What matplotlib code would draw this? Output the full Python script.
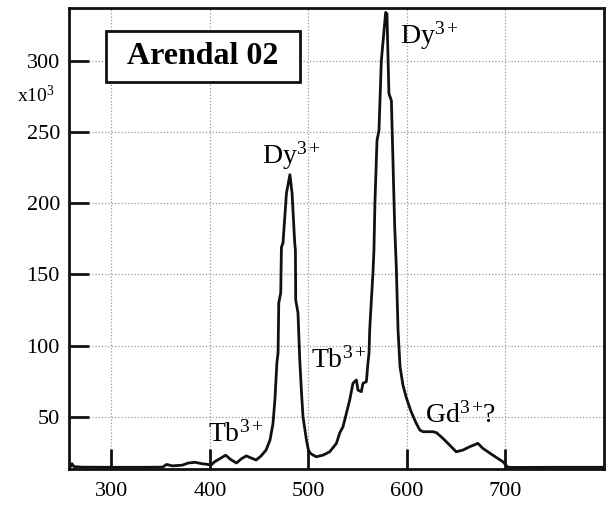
import matplotlib
matplotlib.use("Agg")
import matplotlib.pyplot as plt
from matplotlib.patches import Rectangle

plt.rcParams['font.family'] = ['Liberation Serif', 'DejaVu Serif']
plt.rcParams['mathtext.fontset'] = 'custom'
plt.rcParams['mathtext.rm'] = 'Liberation Serif'
plt.rcParams['mathtext.it'] = 'Liberation Serif:italic'

# Spectrum (wavelength nm, intensity x10^3)
wavelength = [258, 260, 262, 270, 300, 330, 352, 356, 362, 372, 378, 385, 392, 398,
              401, 405, 410, 416, 421, 427, 432, 437, 442, 447, 452, 457, 461, 464,
              466, 467, 468, 469.2, 469.9, 471.9, 472.6, 474.2, 477.7, 481.2,
              483.4, 486.1, 486.8, 487.1, 489.4, 491.2, 493, 494.5, 498, 500, 502,
              505, 508, 515, 521.6,
              528.4, 531.8, 535.1, 538.6, 541.9, 545.2, 548.7, 550.3, 553.7, 555.4,
              558.8, 560.4, 561.5, 562.2, 563.9, 565.5, 566.5, 567.5, 569.6, 571.6,
              574, 578.4, 579.7, 581.7, 584.2, 585.8, 587.5, 589.2, 591, 593, 596,
              599.5, 604, 609, 613, 616.3, 626.4, 630, 636.5, 643.3, 650, 656.8,
              663.6, 672, 677, 687, 697.4, 702.5, 710, 750, 800]
intensity = [14.5, 17, 15, 14.6, 14.5, 14.5, 14.6, 16.5, 15.5, 16, 17.5, 18, 17, 16.5,
             16, 18.5, 20.5, 23, 20, 17.5, 20.5, 22.5, 21, 19.6, 22.5, 26.6, 33.6, 45,
             62, 75, 88, 95, 130, 137, 169, 172, 207, 220,
             207, 172, 167, 132, 123, 90, 66.6, 50, 33.6, 26.6, 24.3,
             23, 21.9, 23.1, 25.4,
             31.3, 38.6, 43, 52.6, 61.7, 73.5, 75.8, 68.7, 67.6, 73.5,
             74.6, 87.5, 94.7, 111, 132, 151, 167, 200, 244, 251,
             300, 334, 333, 277, 272, 230, 185, 155, 110, 85, 72,
             63, 54, 46, 40.7, 39.5, 39.5, 38.8, 34.8, 30.1, 25.4, 26.6,
             28.9, 31.3, 27.8, 23.1, 18.4, 14.5, 14.4, 14.5, 14.5]

x_ticks = [300, 400, 500, 600, 700]
y_ticks = [50, 100, 150, 200, 250, 300]

labels = [(r'Dy$^{3\,{+}}$', 452.8, 228),
          (r'Dy$^{3\,{+}}$', 592.6, 312),
          (r'Tb$^{3\,{+}}$', 397.9, 32.2),
          (r'Tb$^{3\,{+}}$', 503.0, 84.2),
          (r'Gd$^{3\,{+}}$?', 618.0, 45.6)]

fig = plt.figure(figsize=(6.12, 5.05), dpi=100)
ax = fig.add_axes([69/612, 1-469/505, (604-69)/612, (469-7.5)/505])

ax.plot(wavelength, intensity, color='#111111', lw=2.0, zorder=3)
ax.set_xlim(257, 800)
ax.set_ylim(13.3, 337.4)
ax.set_xticks(x_ticks)
ax.set_yticks(y_ticks)
ax.tick_params(direction='in', length=14.5, width=2.0, labelsize=16, color='#111111')
ax.tick_params(axis='y', pad=6.5)
ax.tick_params(axis='x', pad=9)
for s in ax.spines.values():
    s.set_linewidth(2)
    s.set_color('#111111')
ax.grid(True, color='#999999', linestyle=(0, (1, 1.6)), lw=0.9)
ax.set_axisbelow(True)

for txt, x, y in labels:
    ax.text(x, y, txt, fontsize=20, ha='left', va='baseline', zorder=4)

# Title box
box = Rectangle((106/612, 1-82/505), (300-106)/612, (82-31)/505, transform=fig.transFigure,
                facecolor='white', edgecolor='#111111', lw=2, zorder=5)
fig.patches.append(box)
fig.text(203/612, 1-57/505, 'Arendal 02', fontsize=23, fontweight='bold',
         ha='center', va='center', zorder=6)
fig.text(17/612, 1-102/505, r'x10$^{3}$', fontsize=14, ha='left', va='baseline')

fig.savefig('out.png', dpi=100, facecolor='white')
